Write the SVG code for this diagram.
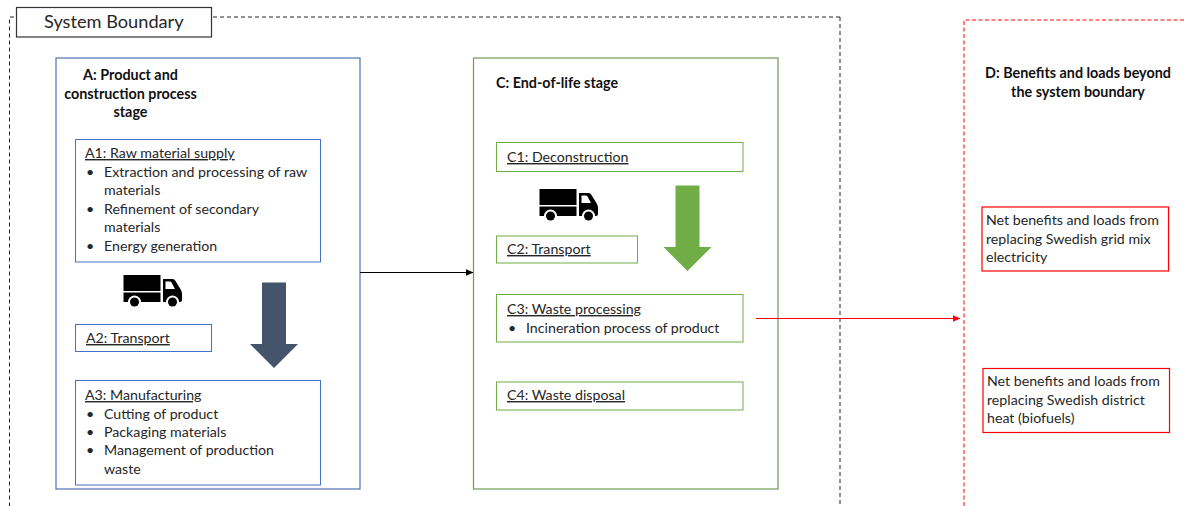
<svg xmlns="http://www.w3.org/2000/svg" width="1184" height="506" viewBox="0 0 1184 506">
<style>
text{font-family:"Lato","Carlito","Noto Sans",sans-serif;font-size:14.2px;fill:#262626}
.b{font-weight:700;fill:#111;font-size:14.35px}
.u{text-decoration:underline}
.m{text-anchor:middle}
rect{fill:#fff}
.blue{stroke:#4472c4;stroke-width:1}
.outerb{stroke:#5b7db8;stroke-width:1.3}
.green{stroke:#70ad47;stroke-width:1}
.outerg{stroke:#6f9a56;stroke-width:1.2}
.red{stroke:#ff0000;stroke-width:1.2}
</style>
<defs>
<marker id="ak" markerWidth="8" markerHeight="7" refX="7.5" refY="3.5" orient="auto" markerUnits="userSpaceOnUse"><path d="M0 0L8 3.5L0 7Z" fill="#000"/></marker>
<marker id="ar" markerWidth="8" markerHeight="7" refX="7.5" refY="3.5" orient="auto" markerUnits="userSpaceOnUse"><path d="M0 0L8 3.5L0 7Z" fill="#f00"/></marker>
<g id="truck">
<path d="M0 0H37V16H0ZM0 17.500H37V27H0Z" fill="#000"/>
<path fill-rule="evenodd" d="M39.500 4H49Q51 4 52 6L57.500 15Q58.500 17 58.500 19V25Q58.500 27 56.500 27H39.500ZM42 6.500V14H51.500L48 7.500Q47.500 6.500 46.500 6.500Z" fill="#000"/>
<circle cx="11" cy="27" r="6.500" fill="#fff"/><circle cx="49" cy="27" r="6.500" fill="#fff"/>
<circle cx="11" cy="27" r="4.500" fill="#000"/><circle cx="49" cy="27" r="4.500" fill="#000"/>
</g>
</defs>
<g id="boundary-frame"><path d="M840 17H9.500V506M840 17V506" fill="none" stroke="#222" stroke-width="1" stroke-dasharray="4 3"/></g>
<g id="d-frame"><path d="M1184 20H964V506" fill="none" stroke="#ff0000" stroke-width="1" stroke-dasharray="4 2.500"/></g>
<g id="system-boundary"><rect x="16.500" y="7.500" width="195" height="29.500" stroke="#333" stroke-width="1.200"/><text x="44" y="28" style="font-size:18.200px">System Boundary</text></g>
<g id="stage-a"><rect class="outerb" x="56" y="58" width="304" height="431"/>
<text class="b m" x="130.500" y="80">A: Product and</text><text class="b m" x="130.500" y="99">construction process</text><text class="b m" x="130.500" y="117">stage</text></g>
<g id="a1"><rect class="blue" x="75.500" y="139.500" width="245" height="122.500"/>
<text class="u" x="85" y="158">A1: Raw material supply</text>
<text x="86" y="177">•</text><text x="104" y="177">Extraction and processing of raw</text><text x="104" y="195">materials</text>
<text x="86" y="214">•</text><text x="104" y="214">Refinement of secondary</text><text x="104" y="232">materials</text>
<text x="86" y="251">•</text><text x="104" y="251">Energy generation</text></g>
<g id="truck-a"><use href="#truck" x="123.500" y="275"/></g>
<g id="a2"><rect class="blue" x="75.500" y="324.500" width="136" height="27"/><text class="u" x="86" y="343">A2: Transport</text></g>
<g id="flow-a"><path d="M262 282.500H286V344H298L274 368L250 344H262Z" fill="#44546a"/></g>
<g id="a3"><rect class="blue" x="75.500" y="380.500" width="245" height="104.500"/>
<text class="u" x="85" y="400">A3: Manufacturing</text>
<text x="86" y="419">•</text><text x="104" y="419">Cutting of product</text>
<text x="86" y="437">•</text><text x="104" y="437">Packaging materials</text>
<text x="86" y="455">•</text><text x="104" y="455">Management of production</text><text x="104" y="474">waste</text></g>
<g id="stage-c"><rect class="outerg" x="473.500" y="58" width="304.500" height="431"/><text class="b" x="496" y="88">C: End-of-life stage</text></g>
<g id="c1"><rect class="green" x="496.500" y="142.500" width="246.500" height="29"/><text class="u" x="507" y="162">C1: Deconstruction</text></g>
<g id="truck-c"><use href="#truck" x="539.500" y="189"/></g>
<g id="c2"><rect class="green" x="496.500" y="236" width="141" height="27"/><text class="u" x="507" y="254">C2: Transport</text></g>
<g id="flow-c"><path d="M675.500 185.500H699.500V247H711.500L687.500 271L663.500 247H675.500Z" fill="#70ad47"/></g>
<g id="c3"><rect class="green" x="496.500" y="294.500" width="246.500" height="47.500"/><text class="u" x="507" y="314">C3: Waste processing</text><text x="508" y="333">•</text><text x="526" y="333">Incineration process of product</text></g>
<g id="c4"><rect class="green" x="496.500" y="382" width="246.500" height="28"/><text class="u" x="507" y="400">C4: Waste disposal</text></g>
<g id="stage-d"><text class="b m" x="1078" y="78">D: Benefits and loads beyond</text><text class="b m" x="1078" y="97">the system boundary</text></g>
<g id="d1"><rect class="red" x="982" y="207" width="186.500" height="64"/><text x="986" y="225">Net benefits and loads from</text><text x="986" y="244">replacing Swedish grid mix</text><text x="986" y="262">electricity</text></g>
<g id="d2"><rect class="red" x="983" y="368.500" width="186.500" height="64"/><text x="987" y="386">Net benefits and loads from</text><text x="987" y="405">replacing Swedish district</text><text x="987" y="423">heat (biofuels)</text></g>
<g id="connectors">
<line x1="360" y1="272.500" x2="473" y2="272.500" stroke="#000" stroke-width="1" marker-end="url(#ak)"/>
<line x1="756" y1="318.500" x2="960" y2="318.500" stroke="#f00" stroke-width="1" marker-end="url(#ar)"/>
</g>
</svg>
